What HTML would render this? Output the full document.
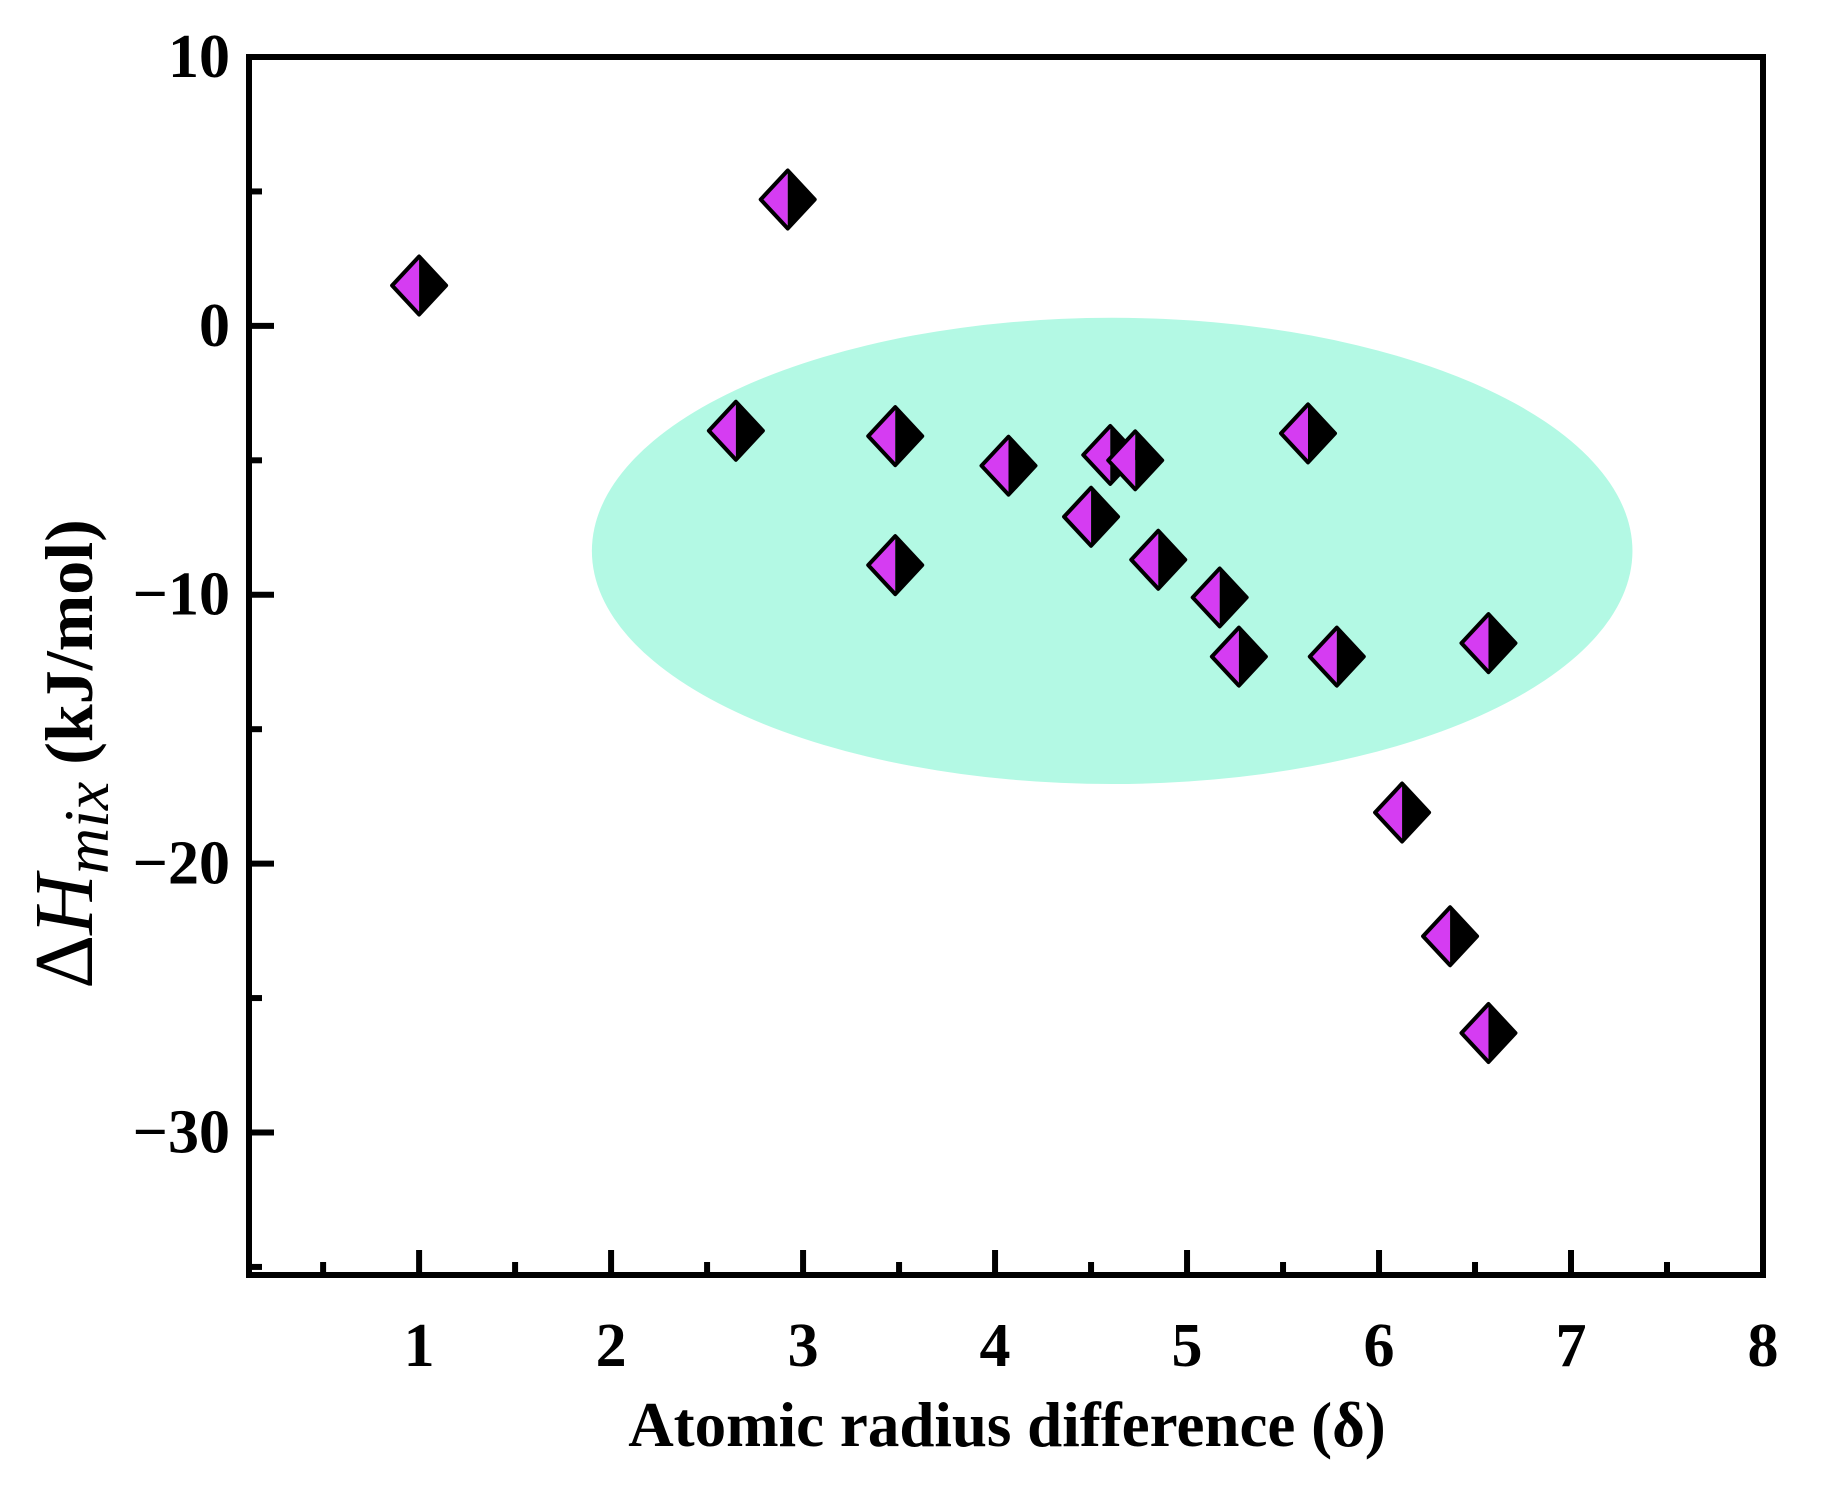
<!DOCTYPE html>
<html><head><meta charset="utf-8"><style>
html,body{margin:0;padding:0;background:#fff;}
svg{display:block;}
text{font-family:"Liberation Serif",serif;font-weight:bold;fill:#000;}
</style></head><body>
<svg id="chart" width="1826" height="1489" viewBox="0 0 1826 1489">
<g id="ellipse-layer"></g>
<g id="axes"></g>
<g id="marks"></g>
<text x="1007" y="1446" font-size="63" text-anchor="middle">Atomic radius difference (δ)</text>
<text transform="translate(92,754) rotate(-90)" font-size="68" text-anchor="middle"><tspan font-weight="normal" font-size="84">Δ</tspan><tspan font-style="italic" font-weight="normal" font-size="84">H</tspan><tspan font-style="italic" font-weight="normal" font-size="64" dy="16">mix</tspan><tspan dy="-16"> (kJ/mol)</tspan></text>
</svg>
<script>
const xVals = [1.0, 2.92, 2.65, 3.48, 3.48, 4.07, 4.5, 4.6, 4.73, 4.85, 5.17, 5.27, 5.63, 5.78, 6.12, 6.37, 6.57, 6.57];
const yVals = [1.5, 4.7, -3.9, -4.1, -8.9, -5.2, -7.1, -4.8, -5.0, -8.7, -10.1, -12.3, -4.0, -12.3, -18.1, -22.7, -11.8, -26.3];
const xTicks = [1, 2, 3, 4, 5, 6, 7, 8];
const yTicks = [10, 0, -10, -20, -30];
const xMinor = [0.5, 1.5, 2.5, 3.5, 4.5, 5.5, 6.5, 7.5];
const yMinor = [5, -5, -15, -25, -35];
const ellipseCenter = [4.61, -8.37];
const ellipseRadii = [2.71, 8.67];

const L = 249, R = 1763, T = 57, B = 1275;
const xMin = 0.114, xMax = 8, yMin = -35.3, yMax = 10;
const sx = v => L + (v - xMin) / (xMax - xMin) * (R - L);
const sy = v => B - (v - yMin) / (yMax - yMin) * (B - T);
const NS = "http://www.w3.org/2000/svg";
function mk(tag, attrs, parent) {
  const e = document.createElementNS(NS, tag);
  for (const k in attrs) e.setAttribute(k, attrs[k]);
  parent.appendChild(e);
  return e;
}
const eg = document.getElementById('ellipse-layer');
const el = mk('ellipse', {cx: sx(ellipseCenter[0]), cy: sy(ellipseCenter[1]),
  rx: sx(ellipseCenter[0] + ellipseRadii[0]) - sx(ellipseCenter[0]),
  ry: sy(ellipseCenter[1] - ellipseRadii[1]) - sy(ellipseCenter[1]), fill: '#b3f9e4'}, eg);



const ax = document.getElementById('axes');
const frame = mk('rect', {x: L, y: T, width: R - L, height: B - T, fill: 'none', stroke: '#000', 'stroke-width': 6}, ax);


xTicks.forEach(v => {
  const x = sx(v);
  const t = mk('line', {x1: x, x2: x, y1: B, y2: B - 25, stroke: '#000', 'stroke-width': 6}, ax);
  
  
  const lb = mk('text', {x: x, y: 1366, 'font-size': 62, 'text-anchor': 'middle'}, ax);
  lb.textContent = v;
  
  
});
xMinor.forEach(v => {
  const x = sx(v);
  const t = mk('line', {x1: x, x2: x, y1: B, y2: B - 13, stroke: '#000', 'stroke-width': 6}, ax);
  
  
});
yTicks.forEach(v => {
  const y = sy(v);
  const t = mk('line', {x1: L, x2: L + 25, y1: y, y2: y, stroke: '#000', 'stroke-width': 6}, ax);
  
  
  const lb = mk('text', {x: 230, y: y + 20, 'font-size': 62, 'text-anchor': 'end'}, ax);
  lb.textContent = v < 0 ? '\u2212' + Math.abs(v) : v;
  
  
});
yMinor.forEach(v => {
  const y = sy(v);
  if (y > B) return;
  const t = mk('line', {x1: L, x2: L + 13, y1: y, y2: y, stroke: '#000', 'stroke-width': 6}, ax);
  
  
});

const mg = document.getElementById('marks');
xVals.forEach((xv, i) => {
  const cx = sx(xv), cy = sy(yVals[i]), w = 27, h = 29;
  const g = mk('g', {}, mg);
  
  
  mk('polygon', {points: `${cx},${cy-h} ${cx},${cy+h} ${cx-w},${cy}`, fill: '#d53cf2'}, g);
  mk('polygon', {points: `${cx},${cy-h} ${cx+w},${cy} ${cx},${cy+h}`, fill: '#000'}, g);
  mk('polygon', {points: `${cx},${cy-h} ${cx+w},${cy} ${cx},${cy+h} ${cx-w},${cy}`, fill: 'none', stroke: '#000', 'stroke-width': 4, 'stroke-linejoin': 'round'}, g);
});
</script>
</body></html>
